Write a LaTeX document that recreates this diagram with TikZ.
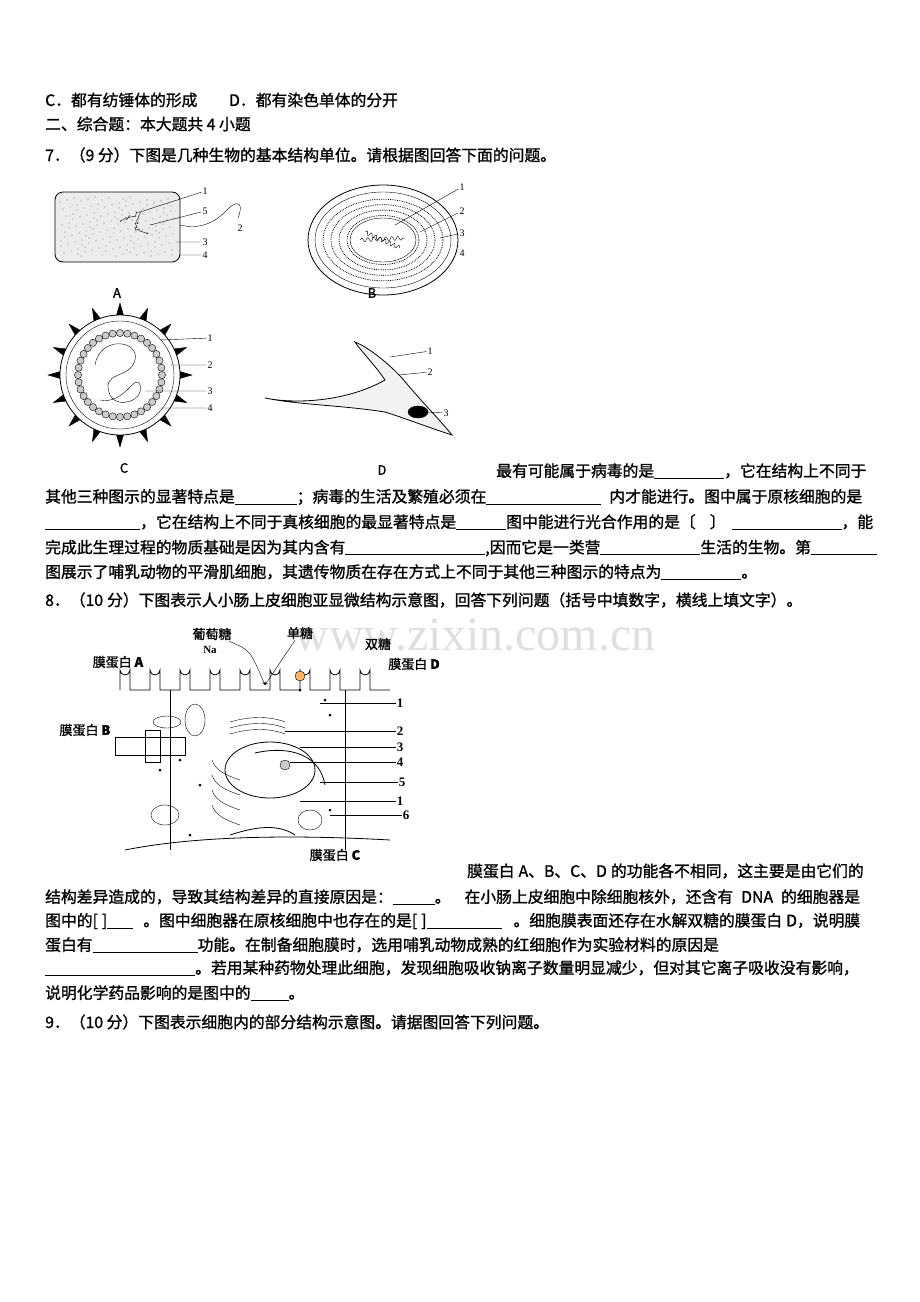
\documentclass[tikz,border=0pt]{standalone}
\usepackage{fontspec}
\setmainfont{Liberation Serif}
\newfontfamily\cjk{Noto Sans CJK SC}[FakeBold=1.2]
\usetikzlibrary{positioning, decorations.pathmorphing}
\tikzset{
txt/.style={anchor=west, inner sep=0pt, font=\cjk\fontsize{15.8}{17}\selectfont}, % text lines
lbl/.style={inner sep=1pt, font=\fontsize{10}{12}\selectfont}, % small figure numbers
num/.style={inner sep=1pt, font=\bfseries\fontsize{13}{14}\selectfont}, % numbers of figure 8
fl/.style={inner sep=1pt, font=\cjk\fontsize{13}{15}\selectfont}, % figure labels
lead/.style={thin}, % leader lines
}
\newcommand{\blk}[1]{\underline{\hspace{#1pt}}}
\newcommand{\ks}{\kern4pt}
\begin{document}
\begin{tikzpicture}[x=1pt, y=-1pt]
\useasboundingbox (0,0) rectangle (920,1302);

% watermark
\node[text=gray!25, font=\fontsize{48}{50}\selectfont] (wm) at (475,635) {www.zixin.com.cn};

% text
\node[txt] (l1) at (45,100) {C．都有纺锤体的形成\qquad D．都有染色单体的分开};
\node[txt] (l2) at (45,124) {二、综合题：本大题共 4 小题};
\node[txt] (l3) at (45,155) {7．（9 分）下图是几种生物的基本结构单位。请根据图回答下面的问题。};
\node[txt] (l4) at (496,471) {最有可能属于病毒的是\blk{70}，它在结构上不同于};
\node[txt] (l5) at (45,497) {其他三种图示的显著特点是\blk{62}；病毒的生活及繁殖必须在\blk{115}\ks\ks 内才能进行。图中属于原核细胞的是};
\node[txt] (l6) at (45,522) {\blk{95}，它在结构上不同于真核细胞的最显著特点是\blk{50}图中能进行光合作用的是〔\kern14pt〕\kern6pt\blk{110}，能};
\node[txt] (l7) at (45,548) {完成此生理过程的物质基础是因为其内含有\blk{140},因而它是一类营\blk{100}生活的生物。第\blk{66}};
\node[txt] (l8) at (45,572) {图展示了哺乳动物的平滑肌细胞，其遗传物质在存在方式上不同于其他三种图示的特点为\blk{80}。};
\node[txt] (l9) at (45,600) {8．（10\ks 分）下图表示人小肠上皮细胞亚显微结构示意图，回答下列问题（括号中填数字，横线上填文字）。};
\node[txt] (l10) at (467,871) {膜蛋白\ks A、B、C、D\ks 的功能各不相同，这主要是由它们的};
\node[txt] (l11) at (45,897) {结构差异造成的，导致其结构差异的直接原因是：\blk{42}。\kern14pt 在小肠上皮细胞中除细胞核外，还含有\kern8pt DNA\kern8pt 的细胞器是};
\node[txt] (l12) at (45,921) {图中的[\ks]\blk{26}\kern10pt。图中细胞器在原核细胞中也存在的是[\ks]\blk{75}\kern12pt。细胞膜表面还存在水解双糖的膜蛋白\ks D，说明膜};
\node[txt] (l13) at (45,945) {蛋白有\blk{105}功能。在制备细胞膜时，选用哺乳动物成熟的红细胞作为实验材料的原因是};
\node[txt] (l14) at (45,968) {\blk{150}。若用某种药物处理此细胞，发现细胞吸收钠离子数量明显减少，但对其它离子吸收没有影响，};
\node[txt] (l15) at (45,993) {说明化学药品影响的是图中的\blk{38}。};
\node[txt] (l16) at (45,1022) {9．（10 分）下图表示细胞内的部分结构示意图。请据图回答下列问题。};

% figure A
\draw[thick, fill=gray!15, rounded corners=8pt] (55,192) rectangle (180,262);
\foreach \i in {1,...,160} {
  \fill[gray] ({60+mod(\i*37,115)},{197+mod(\i*23,60)}) circle (0.6);
}
\draw[decorate, decoration={random steps, segment length=2pt, amplitude=2pt}] (120,222) -- (140,212) -- (135,228) -- (148,232);
\draw (180,225) .. controls (200,230) and (215,222) .. (225,212) .. controls (235,200) and (245,200) .. (238,218);
\node[lbl] (a1) at (205,191) {1};
\node[lbl] (a5) at (205,211) {5};
\node[lbl] (a2) at (240,228) {2};
\node[lbl] (a3) at (205,242) {3};
\node[lbl] (a4) at (205,255) {4};
\coordinate (pa1) at (140,212); \coordinate (pa5) at (150,225);
\coordinate (pa3) at (176,242); \coordinate (pa4) at (180,255);
\draw[lead] (a1) -- (pa1) (a5) -- (pa5) (a3) -- (pa3) (a4) -- (pa4);
\node[fl] (A) at (117,293) {A};

% figure B
\draw[thick] (383,240) ellipse (75 and 55);
\draw (383,240) ellipse (68 and 48);
\foreach \r in {60,52,44,36} {
  \draw[densely dotted, thick] (383,240) ellipse ({\r} and {\r*0.68});
}
\draw[fill=white] (383,240) ellipse (33 and 22);
\draw[decorate, decoration={snake, segment length=6pt, amplitude=2pt}] (360,240) -- (405,238);
\draw[decorate, decoration={snake, segment length=5pt, amplitude=2pt}] (365,232) -- (400,248);
\node[lbl] (b1) at (462,187) {1};
\node[lbl] (b2) at (462,211) {2};
\node[lbl] (b3) at (462,233) {3};
\node[lbl] (b4) at (462,253) {4};
\coordinate (pb1) at (395,225); \coordinate (pb2) at (420,232);
\coordinate (pb3) at (440,238); \coordinate (pb4) at (455,253);
\draw[lead] (b1) -- (pb1) (b2) -- (pb2) (b3) -- (pb3) (b4) -- (pb4);
\node[fl] (B) at (372,293) {B};

% figure C
\foreach \a in {0,22.5,...,359} {
  \draw[fill=black] ({120+58*cos(\a-4)},{375+58*sin(\a-4)}) -- ({120+72*cos(\a)},{375+72*sin(\a)}) -- ({120+58*cos(\a+4)},{375+58*sin(\a+4)});
}
\draw[thick, fill=white] (120,375) circle (60);
\draw (120,375) circle (54);
\foreach \a in {0,10,...,359} {
  \draw[fill=gray!40] ({120+42*cos(\a)},{375+42*sin(\a)}) circle (3.6);
}
\draw (95,365) .. controls (100,335) and (140,340) .. (135,360) .. controls (130,380) and (100,370) .. (110,395) .. controls (118,410) and (145,400) .. (140,385) .. controls (135,372) and (125,405) .. (100,400);
\node[lbl] (c1) at (210,338) {1};
\node[lbl] (c2) at (210,365) {2};
\node[lbl] (c3) at (210,391) {3};
\node[lbl] (c4) at (210,408) {4};
\coordinate (pc1) at (160,340); \coordinate (pc2) at (170,365);
\coordinate (pc3) at (145,391); \coordinate (pc4) at (160,408);
\draw[lead] (c1) -- (pc1) (c2) -- (pc2) (c3) -- (pc3) (c4) -- (pc4);
\node[fl] (C) at (124,468) {C};

% figure D
\draw[thick, fill=gray!10] (265,398) .. controls (300,405) and (350,400) .. (385,380)
  .. controls (375,365) and (360,350) .. (355,342) .. controls (370,348) and (390,365) .. (402,378)
  .. controls (420,400) and (440,420) .. (452,435) .. controls (430,428) and (410,420) .. (385,412)
  .. controls (340,405) and (300,405) .. (265,398) -- cycle;
\draw[fill=black] (418,412) ellipse (10 and 6);
\node[lbl] (d1) at (430,351) {1};
\node[lbl] (d2) at (430,372) {2};
\node[lbl] (d3) at (446,413) {3};
\coordinate (pd1) at (390,357); \coordinate (pd2) at (398,375);
\coordinate (pd3) at (425,412);
\draw[lead] (d1) -- (pd1) (d2) -- (pd2) (d3) -- (pd3);
\node[fl] (D) at (382,470) {D};

% figure 8: intestinal epithelial cell
\draw[thick] (120,690) \foreach \x in {120,150,...,360} { -- (\x,690) -- (\x,670) arc (180:0:5) -- (\x+10,690) } -- (390,690);
\draw[thick] (170,690) -- (170,850);
\draw[thick] (345,690) -- (345,850);
\draw[thick] (125,850) .. controls (200,835) and (300,835) .. (390,840);
\draw[thick] (230,835) .. controls (260,825) and (280,825) .. (295,835);
\draw[thick] (270,770) ellipse (45 and 28);
\draw[thick] (255,753) .. controls (290,745) and (320,755) .. (325,785);
\draw[fill=gray!40] (285,765) circle (5);
\foreach \y in {722,728,734} { \draw (230,\y) .. controls (250,\y-6) and (270,\y-6) .. (285,\y); }
\foreach \y in {760,775,790,805} { \draw (212,\y) .. controls (215,\y+10) and (225,\y+15) .. (240,\y+20); }
\draw (195,720) ellipse (10 and 16);
\draw (165,815) ellipse (14 and 10);
\draw (310,820) ellipse (12 and 10);
\draw (167,722) ellipse (14 and 6);
\draw (115,737) rectangle (185,755);
\draw (145,730) rectangle (160,762);
\foreach \p in {(160,770),(180,760),(325,700),(330,715),(190,835),(200,785),(330,810),(300,690)} { \fill \p circle (1.5); }
\draw[fill=orange!60] (300,676) circle (5);
\node[num] (f1) at (400,703) {1};
\node[num] (f2) at (400,731) {2};
\node[num] (f3) at (400,747) {3};
\node[num] (f4) at (400,762) {4};
\node[num] (f5) at (402,782) {5};
\node[num] (f1b) at (400,801) {1};
\node[num] (f6) at (406,815) {6};
\coordinate (p1) at (320,703); \coordinate (p2) at (285,731);
\coordinate (p3) at (300,747); \coordinate (p4) at (290,762);
\coordinate (p5) at (320,782); \coordinate (p1b) at (300,801);
\coordinate (p6) at (330,815);
\draw[lead] (f1) -- (p1) (f2) -- (p2) (f3) -- (p3) (f4) -- (p4) (f5) -- (p5) (f1b) -- (p1b) (f6) -- (p6);
\node[fl] (mA) at (118,662) {膜蛋白 \textbf{A}};
\node[fl] (mB) at (85,730) {膜蛋白 \textbf{B}};
\node[fl] (mC) at (335,855) {膜蛋白 \textbf{C}};
\node[fl] (mD) at (414,664) {膜蛋白 \textbf{D}};
\node[fl] (glu) at (212,634) {葡萄糖};
\node[fl, font=\bfseries\fontsize{11}{13}\selectfont] (na) at (210,650) {Na};
\node[fl] (mono) at (300,633) {单糖};
\node[fl] (di) at (378,644) {双糖};
\coordinate (in) at (265,685);
\draw[->, >=stealth] (glu) .. controls (250,650) .. (in);
\draw[->, >=stealth] (mono) .. controls (285,655) .. (in);
\end{tikzpicture}
\end{document}
